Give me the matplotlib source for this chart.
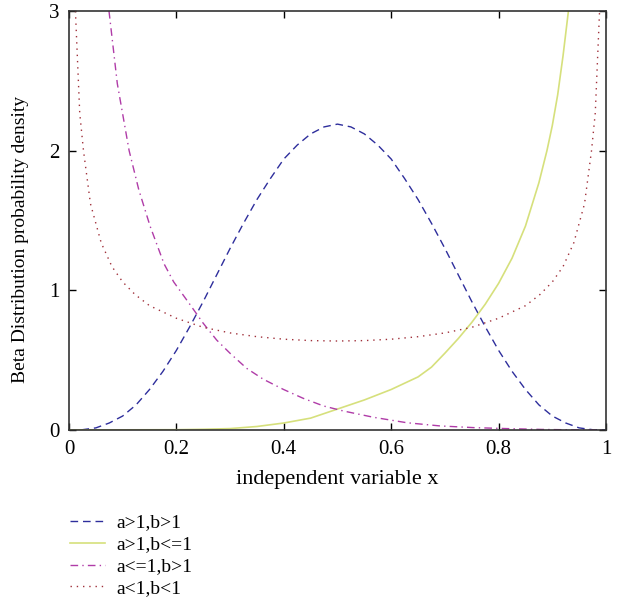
import matplotlib
matplotlib.use('Agg')
import matplotlib.pyplot as plt
from matplotlib.ticker import FuncFormatter

# values
x_ab_gt1 = [0.0, 0.025, 0.05, 0.075, 0.10, 0.125, 0.15, 0.175, 0.20, 0.225, 0.25, 0.275,
            0.30, 0.325, 0.35, 0.375, 0.40, 0.425, 0.45, 0.475, 0.50, 0.525, 0.55, 0.575,
            0.60, 0.625, 0.65, 0.675, 0.70, 0.725, 0.75, 0.775, 0.80, 0.825, 0.85, 0.875,
            0.90, 0.925, 0.95, 0.975, 1.0]
y_ab_gt1 = [0.0, 0.002, 0.015, 0.05, 0.10, 0.18, 0.29, 0.42, 0.57, 0.74, 0.92, 1.11,
            1.30, 1.48, 1.65, 1.80, 1.94, 2.04, 2.12, 2.17, 2.19, 2.17, 2.12, 2.04,
            1.94, 1.80, 1.65, 1.48, 1.30, 1.11, 0.92, 0.74, 0.57, 0.42, 0.29, 0.18,
            0.10, 0.05, 0.015, 0.002, 0.0]

x_b_le1 = [0.0, 0.20, 0.25, 0.30, 0.35, 0.40, 0.45, 0.50, 0.55, 0.60, 0.65, 0.675,
           0.70, 0.725, 0.75, 0.775, 0.80, 0.825, 0.85, 0.875, 0.89, 0.90, 0.91, 0.92, 0.93]
y_b_le1 = [0.0, 0.002, 0.005, 0.01, 0.025, 0.05, 0.085, 0.15, 0.215, 0.29, 0.38, 0.45,
           0.55, 0.655, 0.77, 0.90, 1.05, 1.23, 1.46, 1.77, 2.0, 2.18, 2.4, 2.68, 3.0]

x_a_le1 = [0.0745, 0.09, 0.112, 0.13, 0.151, 0.177, 0.195, 0.21, 0.225, 0.25, 0.275, 0.30,
           0.331, 0.362, 0.399, 0.436, 0.474, 0.511, 0.567, 0.629, 0.691, 0.753, 0.815,
           0.88, 0.94, 1.0]
y_a_le1 = [3.0, 2.48, 2.0, 1.72, 1.46, 1.19, 1.06, 0.98, 0.90, 0.764, 0.644, 0.549,
           0.441, 0.363, 0.291, 0.227, 0.172, 0.136, 0.091, 0.052, 0.029, 0.017, 0.010,
           0.004, 0.001, 0.0]

x_ab_lt1 = [0.012, 0.02, 0.027, 0.04, 0.06, 0.08, 0.10, 0.123, 0.15, 0.20, 0.25, 0.30,
            0.35, 0.40, 0.45, 0.50, 0.55, 0.60, 0.65, 0.70, 0.75, 0.80, 0.85, 0.877,
            0.90, 0.92, 0.94, 0.96, 0.973, 0.98, 0.988]
y_ab_lt1 = [3.0, 2.27, 2.0, 1.62, 1.34, 1.17, 1.06, 0.97, 0.89, 0.80, 0.735, 0.695,
            0.668, 0.65, 0.64, 0.637, 0.64, 0.65, 0.668, 0.695, 0.735, 0.80, 0.89, 0.97,
            1.06, 1.17, 1.34, 1.62, 2.0, 2.27, 3.0]

labels = ['a>1,b>1', 'a>1,b<=1', 'a<=1,b>1', 'a<1,b<1']

plt.rcParams['font.family'] = ['Liberation Serif', 'DejaVu Serif']

fig = plt.figure(figsize=(6.22, 6.04), dpi=100)
ax = fig.add_axes([0.1109, 0.2881, 0.8634, 0.6937])

ax.plot(x_ab_gt1, y_ab_gt1, color='#2e2e9c', lw=1.0, dashes=(5.5, 3.5), label=labels[0])
ax.plot(x_b_le1, y_b_le1, color='#d6e07c', lw=1.2, label=labels[1])
ax.plot(x_a_le1, y_a_le1, color='#b03ca8', lw=1.0, dashes=(5.5, 3, 1, 3), label=labels[2])
ax.plot(x_ab_lt1, y_ab_lt1, color='#a0303a', lw=1.0, dashes=(1, 3.5), label=labels[3])

ax.set_xlim(0, 1)
ax.set_ylim(0, 3)
ax.set_xticks([0, 0.2, 0.4, 0.6, 0.8, 1])
ax.set_yticks([0, 1, 2, 3])
ax.xaxis.set_major_formatter(FuncFormatter(lambda v, p: '%g' % v))
ax.tick_params(direction='in', top=True, right=True, length=5, width=1,
               labelsize=15, pad=7)
for s in ax.spines.values():
    s.set_linewidth(1.2)
    s.set_color('#333333')

ax.set_xlabel('independent variable x', fontsize=16, labelpad=8)
ax.set_ylabel('Beta Distribution probability density', fontsize=14)
ax.yaxis.set_label_coords(-0.075, 0.455)

fig.legend(loc='upper left', bbox_to_anchor=(0.1, 0.162), frameon=False,
           fontsize=14, handlelength=1.8, labelspacing=0.22, handletextpad=0.6,
           borderaxespad=0)

fig.savefig('out.png', dpi=100)
